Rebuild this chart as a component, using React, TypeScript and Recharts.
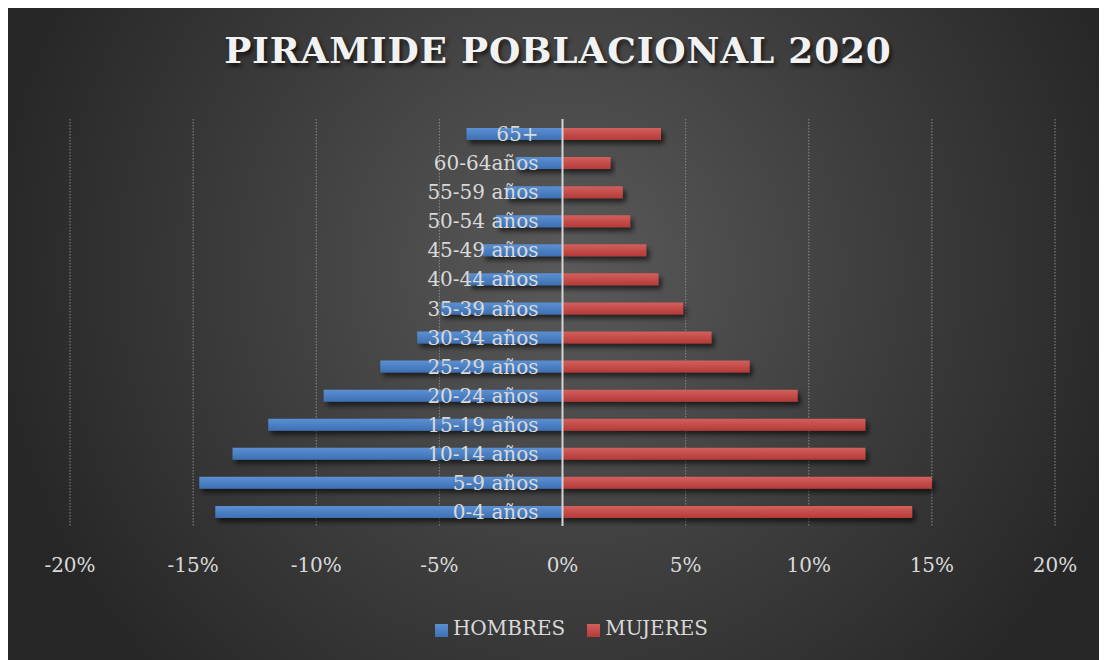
import React from 'react';
import {
  BarChart,
  Bar,
  XAxis,
  YAxis,
  CartesianGrid,
  Legend,
  ReferenceLine,
  LabelList,
  Rectangle,
} from 'recharts';

const grupos = [
  '0-4 años', '5-9 años', '10-14 años', '15-19 años', '20-24 años', '25-29 años', '30-34 años',
  '35-39 años', '40-44 años', '45-49 años', '50-54 años', '55-59 años', '60-64años', '65+',
];
// porcentajes de la población total
const hombres = [14.1, 14.75, 13.4, 11.95, 9.7, 7.4, 5.9, 4.95, 3.8, 3.25, 2.7, 2.3, 1.9, 3.9];
const mujeres = [14.2, 15.0, 12.3, 12.3, 9.55, 7.6, 6.05, 4.9, 3.9, 3.4, 2.75, 2.45, 1.95, 4.0];
const ticksX = [-20, -15, -10, -5, 0, 5, 10, 15, 20];

// hombres a la izquierda (valores negativos)
const data = grupos.map((g, i) => ({ grupo: g, HOMBRES: -hombres[i], MUJERES: mujeres[i] }));

const fuente = '"DejaVu Serif", serif';
const gris = '#d9d9d9';

const BarraSombra = (props: any) => <Rectangle {...props} filter="url(#sombra)" />;

export default function App() {
  return (
    <div
      style={{
        position: 'relative',
        width: 1100,
        height: 652,
        background: 'radial-gradient(circle at 51% 40%, #5a5a5a 0%, #3e3e3e 45%, #272727 85%)',
        fontFamily: fuente,
      }}
    >
      <div
        style={{
          position: 'absolute',
          top: 21,
          left: 0,
          width: 1100,
          textAlign: 'center',
          color: '#f2f2f2',
          fontWeight: 'bold',
          fontSize: 36,
          letterSpacing: 0.8,
          textShadow: '2px 3px 4px rgba(0,0,0,0.7)',
        }}
      >
        PIRAMIDE POBLACIONAL 2020
      </div>
      <BarChart
        width={1100}
        height={652}
        data={data}
        layout="vertical"
        stackOffset="sign"
        barSize={12}
        margin={{ top: 111, right: 53, left: 62, bottom: 50 }}
        style={{ position: 'absolute', top: 0, left: 0 }}
      >
        <defs>
          <filter id="sombra" x="-10%" y="-50%" width="120%" height="250%">
            <feDropShadow dx="3" dy="4" stdDeviation="2.5" floodColor="#000" floodOpacity="0.6" />
          </filter>
          <linearGradient id="azul" x1="0" y1="0" x2="0" y2="1">
            <stop offset="0%" stopColor="#5b90d2" />
            <stop offset="100%" stopColor="#3d70b3" />
          </linearGradient>
          <linearGradient id="rojo" x1="0" y1="0" x2="0" y2="1">
            <stop offset="0%" stopColor="#d2605d" />
            <stop offset="100%" stopColor="#b53a37" />
          </linearGradient>
        </defs>
        <CartesianGrid horizontal={false} stroke="#8a8a8a" strokeDasharray="1.5 1.5" />
        <XAxis
          type="number"
          domain={[-20, 20]}
          ticks={ticksX}
          tickFormatter={(v: number) => `${v}%`}
          axisLine={false}
          tickLine={false}
          tickMargin={26}
          height={60}
          tick={{ fill: gris, fontSize: 20, fontFamily: fuente }}
        />
        <YAxis type="category" dataKey="grupo" reversed hide />
        <Bar
          dataKey="HOMBRES"
          stackId="p"
          fill="url(#azul)"
          legendType="square"
          shape={BarraSombra}
          isAnimationActive={false}
        />
        <Bar
          dataKey="MUJERES"
          stackId="p"
          fill="url(#rojo)"
          legendType="square"
          shape={BarraSombra}
          isAnimationActive={false}
        >
          <LabelList
            dataKey="grupo"
            position="left"
            offset={24}
            fill={gris}
            fontSize={20}
            fontFamily={fuente}
          />
        </Bar>
        <ReferenceLine x={0} stroke="#d4d4d4" strokeWidth={2} />
        <Legend
          verticalAlign="bottom"
          iconType="square"
          iconSize={13}
          wrapperStyle={{ bottom: 20, paddingLeft: 14 }}
          formatter={(v: string) => (
            <span
              style={{
                color: gris,
                fontSize: 20,
                fontFamily: fuente,
                marginLeft: 1,
                marginRight: v === 'HOMBRES' ? 12 : 0,
              }}
            >
              {v}
            </span>
          )}
          payload={[
            { value: 'HOMBRES', type: 'square', color: '#4a7fc4' },
            { value: 'MUJERES', type: 'square', color: '#c44a47' },
          ]}
        />
      </BarChart>
    </div>
  );
}
